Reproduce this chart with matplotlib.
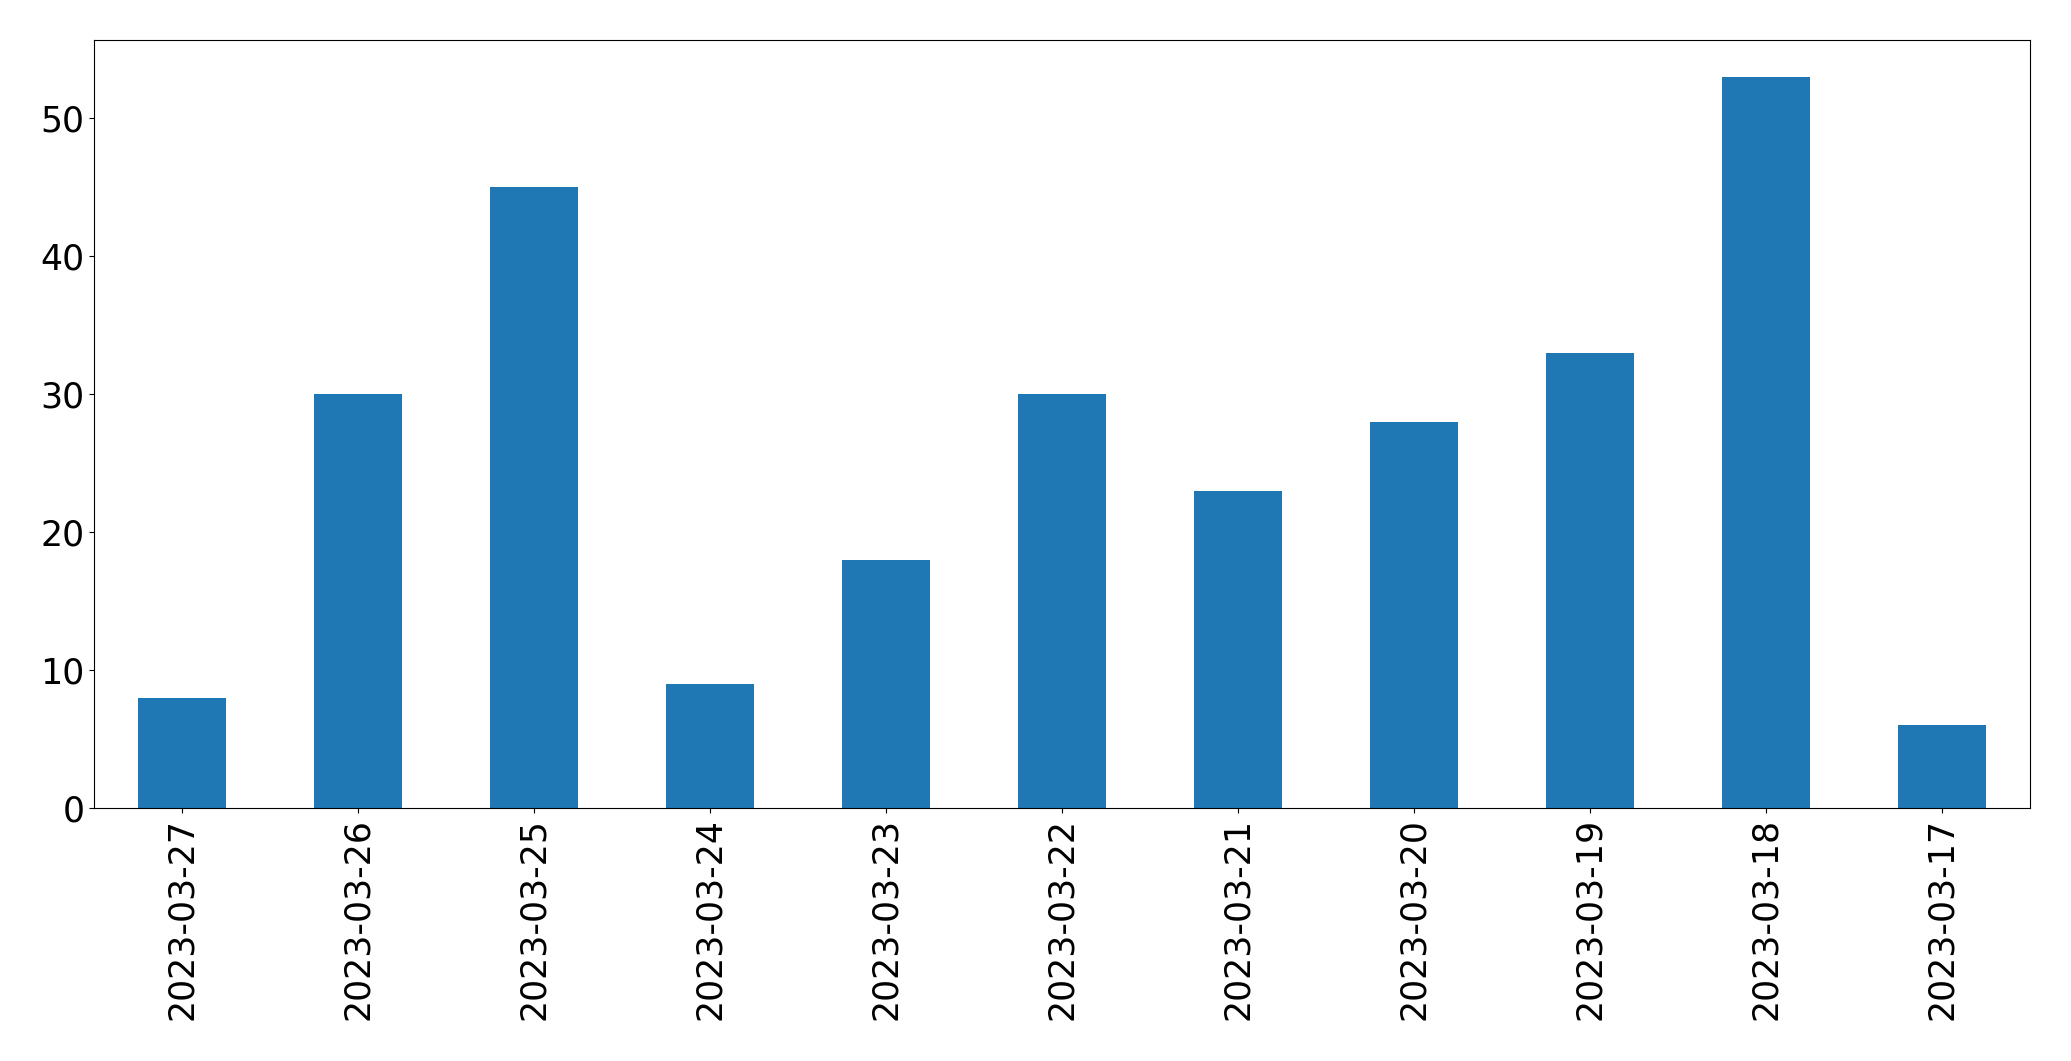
import matplotlib
matplotlib.use("Agg")
import matplotlib.pyplot as plt

dates = ["2023-03-27", "2023-03-26", "2023-03-25", "2023-03-24", "2023-03-23",
         "2023-03-22", "2023-03-21", "2023-03-20", "2023-03-19", "2023-03-18",
         "2023-03-17"]
counts = [8, 30, 45, 9, 18, 30, 23, 28, 33, 53, 6]

fig = plt.figure(figsize=(20.71, 10.61), dpi=100)
ax = fig.add_axes([0.0454, 0.2385, 0.9346, 0.7235])
x = range(len(dates))
ax.bar(x, counts, width=0.5, color="#1f77b4")
ax.set_xlim(-0.5, len(dates) - 0.5)
ax.set_ylim(0, max(counts) * 1.05)
ax.set_xticks(list(x))
ax.set_xticklabels(dates, rotation=90)
ax.tick_params(axis="both", labelsize=25)
fig.savefig("out.png", dpi=100)
